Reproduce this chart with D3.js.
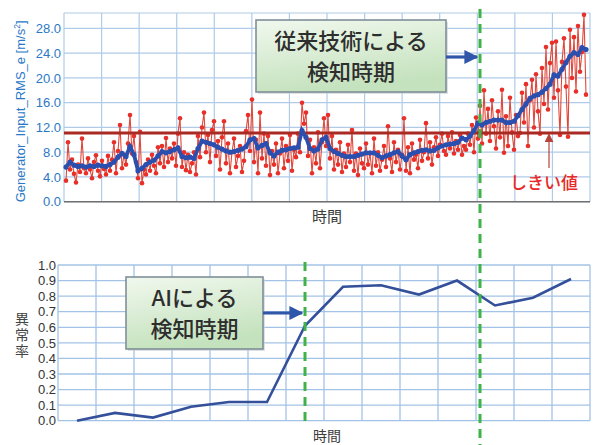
<!DOCTYPE html>
<html>
<head>
<meta charset="utf-8">
<script src="https://cdn.jsdelivr.net/npm/d3@7"></script>
<style>
  body { margin: 0; background: #fff; }
  svg { display: block; }
</style>
</head>
<body>
<div id="chart"></div>
<script>
// raw sensor values (red), one every time step
const rawValues = [
  3.4, 9.6, 5.2, 6.8, 4.5, 3.1, 6.0, 4.8, 10.2, 5.4,
  4.6, 7.0, 5.2, 3.8, 6.4, 7.5, 5.0, 4.1, 6.6, 5.3,
  4.4, 7.4, 5.0, 6.8, 9.6, 4.6, 8.2, 12.4, 5.4, 7.6,
  6.0, 9.4, 14.0, 7.8, 10.6, 6.4, 3.8, 11.3, 3.0, 5.2,
  4.4, 6.8, 5.0, 7.6, 5.8, 4.6, 8.8, 6.2, 9.0, 5.6,
  10.3, 6.4, 8.6, 7.0, 9.4, 5.8, 11.0, 13.5, 5.6, 8.0,
  5.1, 7.6, 4.8, 6.2, 8.0, 4.4, 10.6, 7.2, 12.0, 14.4,
  8.0, 10.8, 6.4, 11.6, 13.0, 7.4, 9.8, 5.2, 10.4, 13.0,
  6.2, 9.4, 4.6, 8.0, 10.2, 5.6, 7.4, 9.0, 4.8, 6.6,
  11.4, 14.0, 8.2, 16.5, 6.4, 10.0, 4.6, 14.4, 7.0, 11.0,
  5.8, 10.6, 4.3, 8.2, 6.0, 9.4, 4.6, 7.8, 10.2, 5.4,
  9.0, 6.6, 10.8, 5.0, 8.4, 7.2, 11.0, 8.0, 16.0, 12.6,
  14.4, 7.4, 10.0, 4.6, 8.8, 6.2, 11.2, 5.4, 9.6, 13.5,
  9.0, 14.0, 7.0, 10.6, 5.2, 8.4, 6.0, 9.6, 4.8, 7.8,
  5.6, 9.2, 6.4, 11.6, 5.0, 7.8, 4.3, 8.6, 6.2, 5.4,
  9.4, 6.0, 7.8, 4.6, 10.2, 5.8, 8.0, 5.0, 6.8, 9.0,
  5.6, 12.2, 7.0, 4.8, 9.6, 6.4, 8.4, 5.2, 7.6, 13.5,
  5.0, 8.8, 4.6, 9.4, 6.8, 7.6, 5.4, 10.0, 6.6, 8.0,
  12.7, 7.0, 9.6, 6.0, 8.8, 10.4, 7.4, 9.2, 11.0, 8.2,
  7.6, 10.6, 8.6, 11.2, 7.8, 9.8, 8.4, 10.8, 7.6, 9.0,
  8.4, 11.0, 9.2, 12.4, 8.0, 13.6, 10.2, 15.5, 9.4, 18.0,
  11.0, 15.0, 9.8, 16.4, 12.2, 8.6, 14.6, 10.4, 18.1, 7.9,
  13.8, 9.0, 16.8, 11.2, 8.4, 14.0, 10.6, 11.1, 17.6, 12.8,
  19.0, 9.0, 16.4, 19.7, 12.0, 20.6, 14.6, 11.0, 21.6, 15.8,
  25.0, 14.9, 22.4, 25.7, 16.8, 25.9, 18.0, 10.8, 22.6, 26.4,
  18.6, 10.5, 27.8, 20.0, 26.6, 17.8, 28.4, 21.0, 24.2, 30.2,
  17.3
]
// smoothed values (blue), one every second time step
const smoothValues = [
  5.6, 6.4, 5.9, 5.7, 5.8, 5.6, 5.8, 5.7, 5.9, 5.8,
  5.7, 6.0, 6.4, 7.2, 7.8, 7.3, 8.9, 7.6, 5.0, 5.4,
  6.0, 6.4, 6.7, 7.4, 8.1, 7.9, 8.1, 8.4, 8.7, 7.3,
  7.1, 7.2, 7.0, 8.6, 9.8, 9.6, 9.4, 9.2, 8.8, 8.5,
  8.2, 8.0, 8.1, 8.3, 8.5, 8.9, 10.0, 10.2, 8.7, 9.1,
  9.4, 7.9, 7.4, 8.0, 8.3, 8.4, 8.6, 8.7, 8.8, 11.5,
  10.4, 8.6, 8.2, 8.5, 10.0, 10.4, 8.6, 8.1, 7.8, 7.5,
  7.3, 7.3, 7.3, 7.5, 7.7, 7.9, 7.9, 7.9, 7.5, 7.1,
  7.4, 7.6, 7.9, 8.1, 7.4, 6.8, 7.6, 7.9, 8.1, 8.3,
  8.4, 8.2, 8.3, 8.7, 9.0, 9.2, 9.3, 9.4, 9.6, 10.3,
  10.0, 10.6, 11.5, 12.7, 12.4, 12.8, 13.0, 13.2, 13.2, 13.2,
  12.8, 12.8, 13.0, 13.9, 14.9, 15.8, 16.7, 17.1, 17.3, 17.7,
  18.3, 19.0, 20.5, 20.3, 21.4, 22.5, 23.5, 24.1, 23.8, 24.9,
  24.6
]
const threshold = 11.1
const topTicks = [0, 4, 8, 12, 16, 20, 24, 28]
const conventionalStep = 207   // time step where the raw values cross the threshold

// anomaly rate (AI)
const rateValues = [0.0, 0.05, 0.02, 0.09, 0.12, 0.12, 0.61, 0.86, 0.87, 0.81, 0.90, 0.74, 0.79, 0.91]
const rateTicks = [0, 0.1, 0.2, 0.3, 0.4, 0.5, 0.6, 0.7, 0.8, 0.9, 1.0]
const aiStep = 6

const W = 598, H = 445
const narrow = '"Liberation Sans Narrow", "Arial Narrow", "Liberation Sans", sans-serif'
const jp = '"Noto Sans CJK JP", sans-serif'
const gridColor = '#afcbe8'

const svg = d3.select('#chart').append('svg').attr('width', W).attr('height', H)

const defs = svg.append('defs')
const grad = defs.append('linearGradient').attr('id', 'boxFill')
  .attr('x1', 0).attr('y1', 0).attr('x2', 0.3).attr('y2', 1)
grad.append('stop').attr('offset', '0%').attr('stop-color', '#f1f8ee')
grad.append('stop').attr('offset', '100%').attr('stop-color', '#c4e2bd')
function marker (id, color, size) {
  defs.append('marker').attr('id', id)
    .attr('viewBox', '0 0 10 10').attr('refX', 9).attr('refY', 5)
    .attr('markerWidth', size).attr('markerHeight', size).attr('orient', 'auto')
    .attr('markerUnits', 'userSpaceOnUse')
    .append('path').attr('d', 'M0,0 L10,5 L0,10 Z').attr('fill', color)
}
marker('blueArrow', '#2f56a8', 14)
marker('redArrow', '#b8423a', 9)

// ---------------- top chart ----------------
const upper = { left: 64, right: 590, top: 13, bottom: 201.7 }
const xTop = d3.scaleLinear().domain([0, rawValues.length - 1]).range([66, 586])
const yTop = d3.scaleLinear().domain([0, 30.5]).range([upper.bottom, upper.top])
const colTop = d3.scaleLinear().domain([0, 14]).range([upper.left, upper.right])

const g1 = svg.append('g')
g1.selectAll('.hgrid').data(topTicks.concat([30.5])).enter().append('line')
  .attr('x1', upper.left).attr('x2', upper.right)
  .attr('y1', d => yTop(d)).attr('y2', d => yTop(d))
  .attr('stroke', gridColor).attr('stroke-width', 1.2)
g1.selectAll('.vgrid').data(d3.range(15)).enter().append('line')
  .attr('x1', d => colTop(d)).attr('x2', d => colTop(d))
  .attr('y1', upper.top).attr('y2', upper.bottom)
  .attr('stroke', gridColor).attr('stroke-width', 1.2)

g1.append('g').attr('transform', `translate(${upper.left},0)`)
  .call(d3.axisLeft(yTop).tickValues(topTicks).tickFormat(d3.format('.1f')).tickSize(0).tickPadding(3))
  .call(a => a.select('.domain').remove())
  .selectAll('text').attr('fill', '#2b78c6').style('font-family', narrow).style('font-size', '13px')

g1.append('line').attr('x1', upper.left).attr('x2', upper.right)
  .attr('y1', upper.bottom).attr('y2', upper.bottom).attr('stroke', '#707070').attr('stroke-width', 1.6)

const yTitle = g1.append('text')
  .attr('transform', `translate(25, ${(upper.top + upper.bottom) / 2 + 4}) rotate(-90)`)
  .attr('text-anchor', 'middle').attr('fill', '#2b78c6')
  .style('font-family', narrow).style('font-size', '13px')
yTitle.append('tspan').text('Generator_Input_RMS_e [m/s')
yTitle.append('tspan').text('2').attr('dy', -5).style('font-size', '8.5px')
yTitle.append('tspan').text(']').attr('dy', 5)

// raw series
const rawLine = d3.line().x((d, i) => xTop(i)).y(d => yTop(d))
g1.append('path').datum(rawValues).attr('d', rawLine)
  .attr('fill', 'none').attr('stroke', '#e0483c').attr('stroke-width', 1.1)
g1.selectAll('.raw').data(rawValues).enter().append('circle')
  .attr('cx', (d, i) => xTop(i)).attr('cy', d => yTop(d)).attr('r', 2.3)
  .attr('fill', '#e8302a')

// threshold
g1.append('line').attr('x1', upper.left).attr('x2', upper.right)
  .attr('y1', yTop(threshold)).attr('y2', yTop(threshold))
  .attr('stroke', '#a82a22').attr('stroke-width', 3)

// smoothed series
const smoothLine = d3.line().x((d, i) => xTop(i * 2)).y(d => yTop(d))
g1.append('path').datum(smoothValues).attr('d', smoothLine)
  .attr('fill', 'none').attr('stroke', '#2b4fae').attr('stroke-width', 3.8)
g1.selectAll('.smooth').data(smoothValues).enter().append('circle')
  .attr('cx', (d, i) => xTop(i * 2)).attr('cy', d => yTop(d)).attr('r', 2.6)
  .attr('fill', '#2b4fae')

g1.append('text').text('時間').attr('x', 327).attr('y', 222)
  .attr('text-anchor', 'middle').attr('fill', '#3c3c3c')
  .style('font-family', jp).style('font-size', '15px')

// threshold label
g1.append('line').attr('x1', 549).attr('x2', 549).attr('y1', 168).attr('y2', yTop(threshold) + 1)
  .attr('stroke', '#b8423a').attr('stroke-width', 1.2).attr('marker-end', 'url(#redArrow)')
g1.append('text').text('しきい値').attr('x', 544).attr('y', 189)
  .attr('text-anchor', 'middle').attr('fill', '#e82a2a')
  .style('font-family', jp).style('font-size', '17px').style('font-weight', 500)

// ---------------- bottom chart ----------------
const lower = { left: 58, right: 590, top: 265, bottom: 420.7 }
const xRate = d3.scalePoint().domain(d3.range(rateValues.length)).range([lower.left, lower.right]).padding(0.5)
const yRate = d3.scaleLinear().domain([0, 1]).range([lower.bottom, lower.top])
const colBot = d3.scaleLinear().domain([0, 14]).range([lower.left, lower.right])

const g2 = svg.append('g')
g2.selectAll('.hgrid').data(rateTicks).enter().append('line')
  .attr('x1', lower.left).attr('x2', lower.right)
  .attr('y1', d => yRate(d)).attr('y2', d => yRate(d))
  .attr('stroke', '#a3c3e6').attr('stroke-width', 1.3)
g2.selectAll('.vgrid').data(d3.range(15)).enter().append('line')
  .attr('x1', d => colBot(d)).attr('x2', d => colBot(d))
  .attr('y1', lower.top).attr('y2', lower.bottom)
  .attr('stroke', '#a3c3e6').attr('stroke-width', 1.3)

g2.append('g').attr('transform', `translate(${lower.left},0)`)
  .call(d3.axisLeft(yRate).tickValues(rateTicks).tickFormat(d3.format('.1f')).tickSize(0).tickPadding(2))
  .call(a => a.select('.domain').remove())
  .selectAll('text').attr('fill', '#333').style('font-family', narrow).style('font-size', '13px')

// vertical, upright y title
g2.append('text').text('異常率')
  .attr('x', 22).attr('y', 312)
  .attr('fill', '#444')
  .style('writing-mode', 'vertical-rl').style('letter-spacing', '2px')
  .style('font-family', jp).style('font-size', '14px')

g2.append('path').datum(rateValues)
  .attr('d', d3.line().x((d, i) => xRate(i)).y(d => yRate(d)))
  .attr('fill', 'none').attr('stroke', '#34509a').attr('stroke-width', 2.6)

g2.append('text').text('時間').attr('x', 327).attr('y', 441)
  .attr('text-anchor', 'middle').attr('fill', '#3c3c3c')
  .style('font-family', jp).style('font-size', '14px')

// ---------------- detection markers ----------------
const dash = '9,6'
svg.append('line').attr('x1', xRate(aiStep)).attr('x2', xRate(aiStep))
  .attr('y1', 262).attr('y2', 423)
  .attr('stroke', '#3fb34a').attr('stroke-width', 3).attr('stroke-dasharray', dash)
svg.append('line').attr('x1', xTop(conventionalStep)).attr('x2', xTop(conventionalStep))
  .attr('y1', 9).attr('y2', 445)
  .attr('stroke', '#3fb34a').attr('stroke-width', 3).attr('stroke-dasharray', dash)

function callout (x, y, w, h, lines, arrowY, arrowX) {
  const c = svg.append('g')
  c.append('rect').attr('x', x + 2).attr('y', y + 2).attr('width', w).attr('height', h)
    .attr('fill', '#c9cfd2').attr('opacity', 0.6)
  c.append('rect').attr('x', x).attr('y', y).attr('width', w).attr('height', h)
    .attr('fill', 'url(#boxFill)').attr('stroke', '#7f8f98').attr('stroke-width', 1.6)
  c.selectAll('.t').data(lines).enter().append('text')
    .attr('x', x + w / 2).attr('y', (d, i) => y + h / 2 - 7 + i * 31)
    .attr('text-anchor', 'middle').attr('fill', '#2e2e2e')
    .style('font-family', jp).style('font-size', '22px').style('font-weight', 500)
    .text(d => d)
  c.append('line').attr('x1', x + w).attr('x2', arrowX).attr('y1', arrowY).attr('y2', arrowY)
    .attr('stroke', '#2f56a8').attr('stroke-width', 3.2).attr('marker-end', 'url(#blueArrow)')
}
callout(256, 20, 190, 72, ['従来技術による', '検知時期'], 57, xTop(conventionalStep) - 3)
callout(126, 277, 137, 72, ['AIによる', '検知時期'], 313, xRate(aiStep) - 3)
</script>
</body>
</html>
